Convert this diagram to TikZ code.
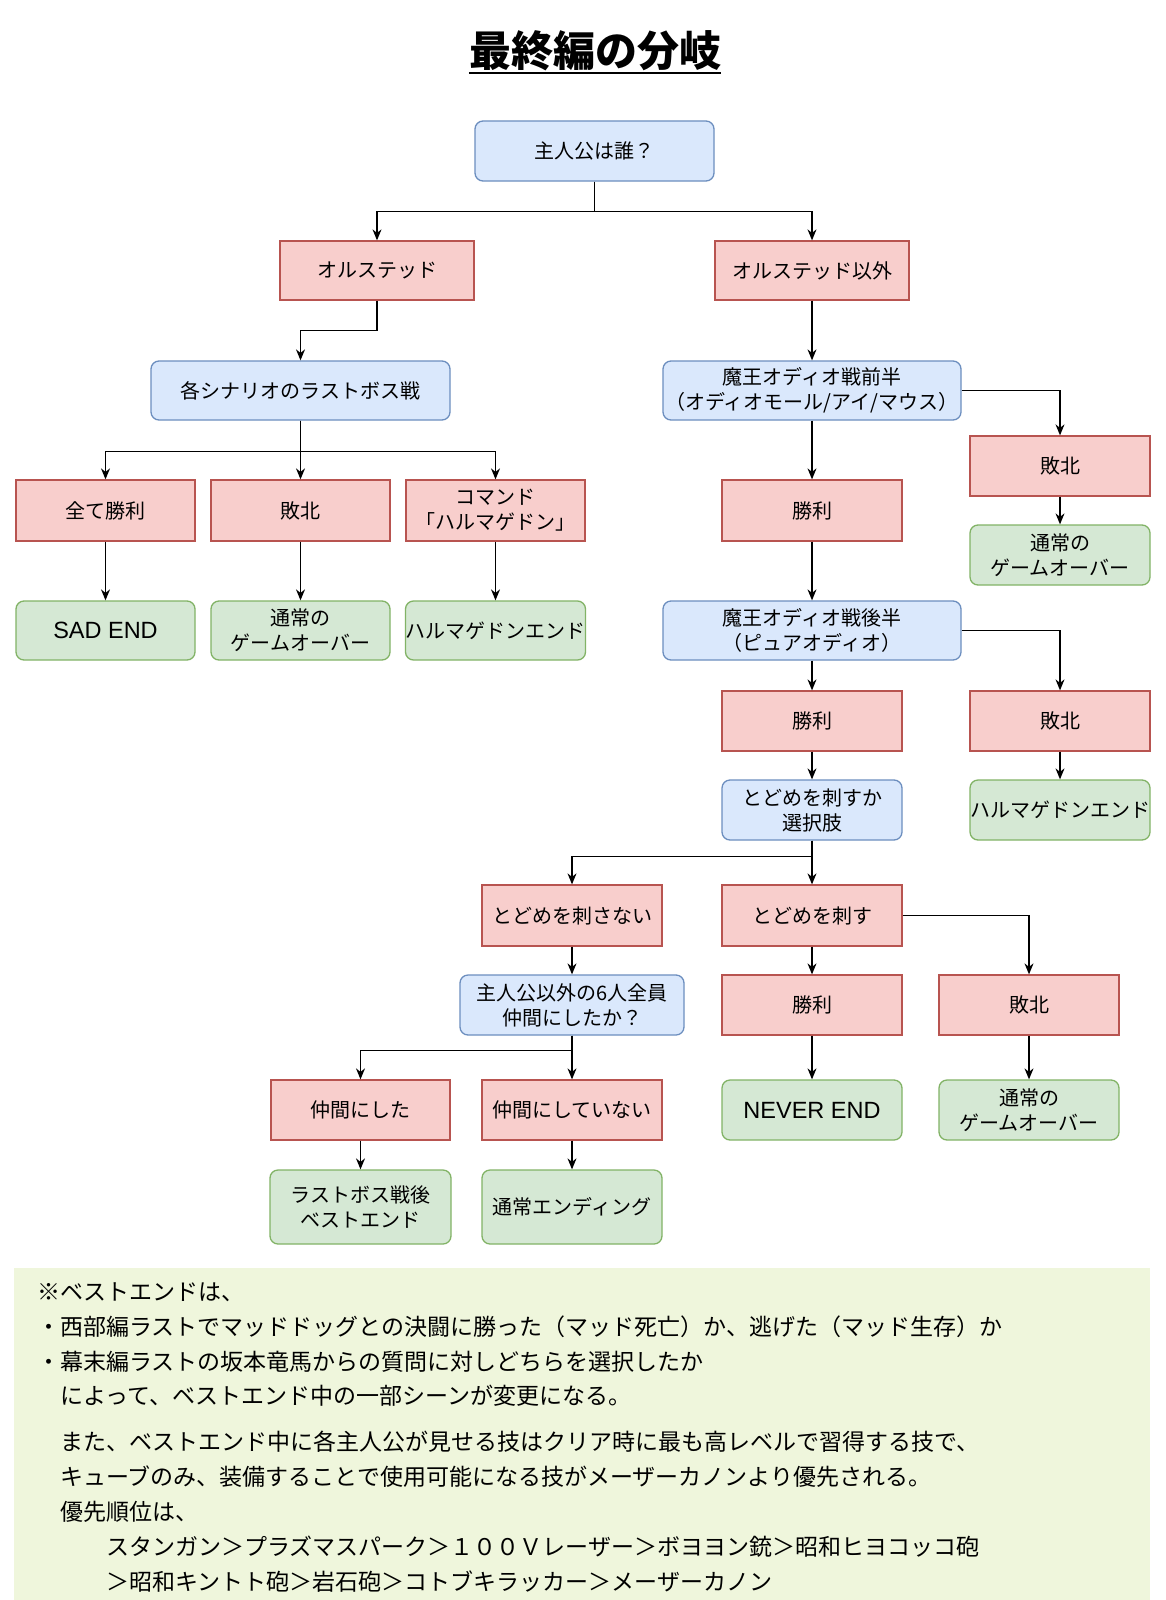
\documentclass[tikz,border=0pt]{standalone}
\usepackage{fontspec}
\setmainfont{Noto Sans CJK JP}
\newfontfamily\latinf{Liberation Sans}
\usetikzlibrary{arrows.meta}
\definecolor{bfill}{HTML}{DAE8FC}\definecolor{bline}{HTML}{6C8EBF}
\definecolor{rfill}{HTML}{F8CECC}\definecolor{rline}{HTML}{B85450}
\definecolor{gfill}{HTML}{D5E8D4}\definecolor{gline}{HTML}{82B366}
\definecolor{notefill}{HTML}{EFF6DC}
\newcommand\mybox[7]{\node[#1, minimum width={(#4-#2)*1pt}, minimum height={(#5-#3)*1pt}] (#6) at ({(#2+#4)/2},{(#3+#5)/2}) {#7};}
\newcommand\lat[1]{{\latinf\fontsize{23.5}{28}\selectfont #1}}
\begin{document}
\begin{tikzpicture}[x=1pt,y=-1pt,
  box/.style={draw, line width=1.3pt, inner sep=0pt, align=center, font=\fontsize{20}{25}\selectfont, text=black},
  bluebox/.style={box, fill=bfill, draw=bline, rounded corners=8pt},
  redbox/.style={box, fill=rfill, draw=rline},
  greenbox/.style={box, fill=gfill, draw=gline, rounded corners=8pt},
  arr/.style={-{Stealth[length=11pt,width=9pt]}, line width=1.3pt},
  notetext/.style={anchor=west, inner sep=0pt, font=\fontsize{23}{28}\selectfont}]
\useasboundingbox (0,0) rectangle (1166,1600);
\fill[white] (0,0) rectangle (1166,1600);

% title
\node[anchor=base, inner sep=0pt, font=\fontsize{42}{50}\selectfont\bfseries] (title) at (595,67) {最終編の分岐};
\draw[line width=2pt] ([yshift=-6pt]title.base west) -- ([yshift=-6pt]title.base east);

% nodes
\mybox{bluebox}{475}{121}{714}{181}{root}{主人公は誰？}
\mybox{redbox}{280}{241}{474}{300}{ol}{オルステッド}
\mybox{redbox}{715}{241}{909}{300}{olx}{オルステッド以外}
\mybox{bluebox}{151}{361}{450}{420}{c}{各シナリオのラストボス戦}
\mybox{bluebox}{663}{361}{961}{420}{d}{魔王オディオ戦前半\\（オディオモール/アイ/マウス）}
\mybox{redbox}{16}{480}{195}{541}{e1}{全て勝利}
\mybox{redbox}{211}{480}{390}{541}{e2}{敗北}
\mybox{redbox}{406}{480}{585}{541}{e3}{コマンド\\「ハルマゲドン」}
\mybox{greenbox}{16}{601}{195}{660}{f1}{\lat{SAD END}}
\mybox{greenbox}{211}{601}{390}{660}{f2}{通常の\\ゲームオーバー}
\mybox{greenbox}{406}{601}{585}{660}{f3}{ハルマゲドンエンド}
\mybox{redbox}{970}{436}{1150}{496}{g}{敗北}
\mybox{greenbox}{970}{525}{1150}{585}{g2}{通常の\\ゲームオーバー}
\mybox{redbox}{722}{480}{902}{541}{h}{勝利}
\mybox{bluebox}{663}{601}{961}{660}{i}{魔王オディオ戦後半\\（ピュアオディオ）}
\mybox{redbox}{722}{691}{902}{751}{j}{勝利}
\mybox{redbox}{970}{691}{1150}{751}{k}{敗北}
\mybox{bluebox}{722}{780}{902}{840}{l}{とどめを刺すか\\選択肢}
\mybox{greenbox}{970}{780}{1150}{840}{k2}{ハルマゲドンエンド}
\mybox{redbox}{482}{885}{662}{946}{m}{とどめを刺さない}
\mybox{redbox}{722}{885}{902}{946}{n}{とどめを刺す}
\mybox{bluebox}{460}{975}{684}{1035}{o}{主人公以外の6人全員\\仲間にしたか？}
\mybox{redbox}{722}{975}{902}{1035}{p}{勝利}
\mybox{redbox}{939}{975}{1119}{1035}{q}{敗北}
\mybox{redbox}{271}{1080}{450}{1140}{r}{仲間にした}
\mybox{redbox}{482}{1080}{662}{1140}{s}{仲間にしていない}
\mybox{greenbox}{722}{1080}{902}{1140}{t}{\lat{NEVER END}}
\mybox{greenbox}{939}{1080}{1119}{1140}{u}{通常の\\ゲームオーバー}
\mybox{greenbox}{270}{1170}{451}{1244}{v}{ラストボス戦後\\ベストエンド}
\mybox{greenbox}{482}{1170}{662}{1244}{w}{通常エンディング}

% connectors
\draw[arr] (root.south) -- ++(0,30) -| (ol.north);
\draw[arr] (root.south) -- ++(0,30) -| (olx.north);
\draw[arr] (ol.south) -- ++(0,30) -| (c.north);
\draw[arr] (olx.south) -- (olx.south |- d.north);
\draw[arr] (c.south) -- ++(0,31) -| (e1.north);
\draw[arr] (c.south) -- (e2.north);
\draw[arr] (c.south) -- ++(0,31) -| (e3.north);
\draw[arr] (e1) -- (f1);
\draw[arr] (e2) -- (f2);
\draw[arr] (e3) -- (f3);
\draw[arr] (d.east) -| (g.north);
\draw[arr] (g) -- (g2);
\draw[arr] (d.south -| h.north) -- (h.north);
\draw[arr] (h.south) -- (h.south |- i.north);
\draw[arr] (i.south -| j.north) -- (j.north);
\draw[arr] (i.east) -| (k.north);
\draw[arr] (j) -- (l);
\draw[arr] (k) -- (k2);
\draw[arr] (l.south) -- ++(0,16) -| (m.north);
\draw[arr] (l) -- (n);
\draw[arr] (m) -- (o);
\draw[arr] (n.east) -| (q.north);
\draw[arr] (n) -- (p);
\draw[arr] (o.south) -- ++(0,15) -| (r.north);
\draw[arr] (o.south) -- (o.south |- s.north);
\draw[arr] (p) -- (t);
\draw[arr] (q) -- (u);
\draw[arr] (r.south) -- (r.south |- v.north);
\draw[arr] (s) -- (w);

% note
\fill[notefill] (14,1268) rectangle (1150,1600);
\node[notetext] (n1) at (37,1292) {※ベストエンドは、};
\node[notetext] (n2) at (37,1327) {・西部編ラストでマッドドッグとの決闘に勝った（マッド死亡）か、逃げた（マッド生存）か};
\node[notetext] (n3) at (37,1362) {・幕末編ラストの坂本竜馬からの質問に対しどちらを選択したか};
\node[notetext] (n4) at (60,1396) {によって、ベストエンド中の一部シーンが変更になる。};
\node[notetext] (n5) at (60,1442) {また、ベストエンド中に各主人公が見せる技はクリア時に最も高レベルで習得する技で、};
\node[notetext] (n6) at (60,1477) {キューブのみ、装備することで使用可能になる技がメーザーカノンより優先される。};
\node[notetext] (n7) at (60,1512) {優先順位は、};
\node[notetext] (n8) at (106,1547) {スタンガン＞プラズマスパーク＞１００Ｖレーザー＞ボヨヨン銃＞昭和ヒヨコッコ砲};
\node[notetext] (n9) at (106,1582) {＞昭和キントト砲＞岩石砲＞コトブキラッカー＞メーザーカノン};
\end{tikzpicture}
\end{document}
